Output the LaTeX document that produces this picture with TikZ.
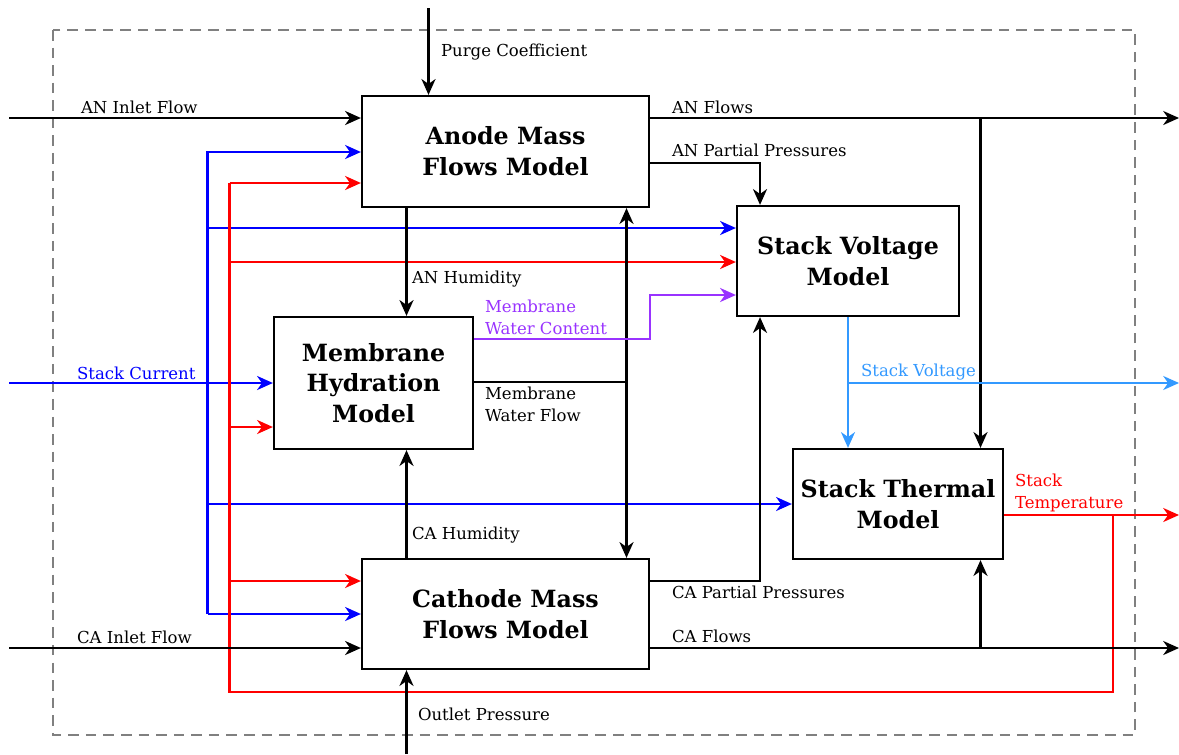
\documentclass[tikz,border=0pt]{standalone}
\usepackage{fontspec}
\setmainfont{DejaVu Serif}
\usetikzlibrary{arrows.meta}
\definecolor{curblue}{RGB}{0,0,255}
\definecolor{tempred}{RGB}{255,0,0}
\definecolor{wcpurple}{RGB}{153,51,255}
\definecolor{voltblue}{RGB}{51,153,255}
\definecolor{framegray}{RGB}{128,128,128}
\tikzset{
  model/.style={draw, line width=1.3pt, inner sep=0pt, align=center,
    font=\bfseries\fontsize{13.5}{17.5}\selectfont},
  lbl/.style={anchor=west, inner sep=0pt, align=left,
    font=\fontsize{9.4}{12.5}\selectfont},
}
\begin{document}
\begin{tikzpicture}[x=0.02cm, y=-0.02cm, >={Stealth[length=9pt,width=8pt,inset=2.8pt]}, line width=1.2pt]
\useasboundingbox (0,0) rectangle (1179,754);
\draw[framegray, line width=0.9pt, dash pattern=on 6pt off 4pt] (53,30) rectangle (1135,735);
% models
\node[model, minimum width=5.74cm, minimum height=2.22cm] (anode) at (505.5,151.5) {Anode Mass\\Flows Model};
\node[model, minimum width=3.98cm, minimum height=2.64cm] (memb) at (373.5,383) {Membrane\\Hydration\\Model};
\node[model, minimum width=4.44cm, minimum height=2.2cm] (sv) at (848,261) {Stack Voltage\\Model};
\node[model, minimum width=4.2cm, minimum height=2.2cm] (therm) at (898,504) {Stack Thermal\\Model};
\node[model, minimum width=5.74cm, minimum height=2.2cm] (cath) at (505.5,614) {Cathode Mass\\Flows Model};
% free ends
\coordinate (purge) at (428.5,8);
\coordinate (anin) at (9,118);
\coordinate (curin) at (9,383);
\coordinate (cain) at (9,648);
\coordinate (outp) at (406.5,754);
\coordinate (anout) at (1179,118);
\coordinate (vout) at (1179,383);
\coordinate (tout) at (1179,515);
\coordinate (caout) at (1179,648);
% stack current
\coordinate (bt) at (207.5,152);
\coordinate (bb) at (207.5,614);
\draw[curblue,->] (curin) -- (curin -| memb.west);
\draw[curblue,->] (bb) -- (bt) -- (bt -| anode.west);
\draw[curblue,->] (bb) -- (bb -| cath.west);
\draw[curblue,->] (bt |- 0,228) -- (sv.west |- 0,228);
\draw[curblue,->] (bt |- therm.west) -- (therm.west);
% stack temperature
\coordinate (rt) at (229.5,183);
\coordinate (rb) at (229.5,692);
\coordinate (rr) at (1113,692);
\draw[tempred,->] (therm.east |- tout) -- (tout);
\draw[tempred] (rr |- tout) -- (rr) -- (rb) -- (rt);
\draw[tempred,->] (rt) -- (rt -| anode.west);
\draw[tempred,->] (rt |- 0,262) -- (sv.west |- 0,262);
\draw[tempred,->] (rt |- 0,427) -- (memb.west |- 0,427);
\draw[tempred,->] (rt |- 0,581) -- (cath.west |- 0,581);
% inputs
\draw[->] (purge) -- (purge |- anode.north);
\draw[->] (anin) -- (anin -| anode.west);
\draw[->] (cain) -- (cain -| cath.west);
\draw[->] (outp) -- (outp |- cath.south);
% humidity and water
\draw[->] (anode.south -| outp) -- (memb.north -| outp);
\draw[->] (cath.north -| outp) -- (memb.south -| outp);
\coordinate (wf) at (626.5,382);
\draw[<->] (anode.south -| wf) -- (cath.north -| wf);
\draw (memb.east |- wf) -- (wf);
\draw[wcpurple,->] (memb.east |- 0,339) -| (anode.east |- 0,295) -- (sv.west |- 0,295);
% pressures and flows
\draw[->] (anode.east |- 0,163) -| ([xshift=-1.76cm]sv.north);
\draw[->] (cath.east |- 0,581) -| ([xshift=-1.76cm]sv.south);
\coordinate (fx) at (980.5,118);
\draw[->] (anode.east |- anout) -- (anout);
\draw[->] (fx) -- (fx |- therm.north);
\draw[->] (cath.east |- caout) -- (caout);
\draw[->] (fx |- caout) -- (fx |- therm.south);
% voltage
\draw[voltblue,line width=0.9pt,->] (sv.south) -- (sv.south |- therm.north);
\draw[voltblue,line width=0.9pt,->] (sv.south |- vout) -- (vout);
% labels
\node[lbl] at (440,52) {Purge Coefficient};
\node[lbl] at (80,107) {AN Inlet Flow};
\node[lbl] at (671,107) {AN Flows};
\node[lbl] at (671,150) {AN Partial Pressures};
\node[lbl] at (411,279) {AN Humidity};
\node[lbl, text=wcpurple] at (484,317) {Membrane\\Water Content};
\node[lbl, text=curblue] at (76,373) {Stack Current};
\node[lbl] at (484,404) {Membrane\\Water Flow};
\node[lbl, text=voltblue] at (860,372) {Stack Voltage};
\node[lbl, text=tempred] at (1014,493) {Stack\\Temperature};
\node[lbl] at (411,535) {CA Humidity};
\node[lbl] at (671,592) {CA Partial Pressures};
\node[lbl] at (76,637) {CA Inlet Flow};
\node[lbl] at (671,636) {CA Flows};
\node[lbl] at (417,714) {Outlet Pressure};
\end{tikzpicture}
\end{document}
